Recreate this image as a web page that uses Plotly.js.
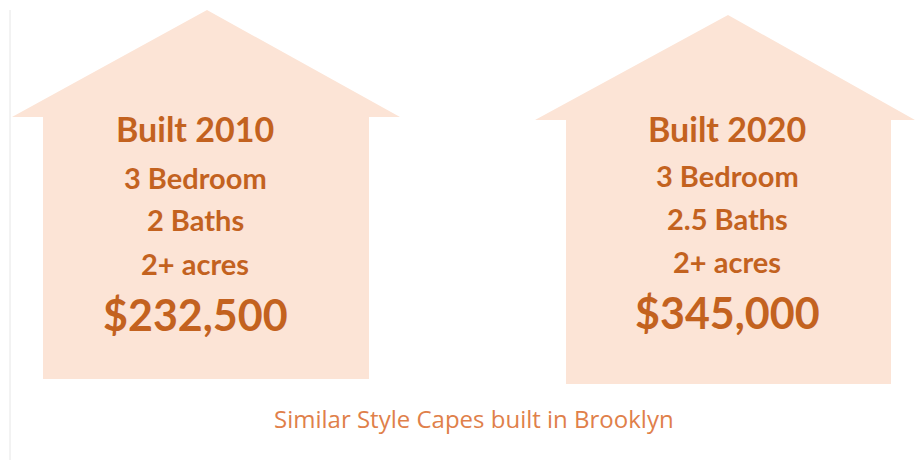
<!DOCTYPE html>
<html>
<head>
<meta charset="utf-8">
<script src="https://cdn.plot.ly/plotly-3.0.1.min.js"></script>
<style>html,body{margin:0;padding:0;background:#fff;}#chart{width:915px;height:460px;}</style>
</head>
<body>
<div id="chart"></div>
<script>
// ---- data ----
const builtYears = [2010, 2020];
const bedrooms = [3, 3];
const baths = [2, 2.5];
const acres = ["2+", "2+"];
const prices = [232500, 345000];
const caption = "Similar Style Capes built in Brooklyn";

// ---- house geometry (layout only) ----
const houses = [
  {peakX: 207, peakY: 10, eaveL: 12, eaveR: 400, eaveY: 117, bodyL: 43, bodyR: 369, bottom: 379, textX: 195},
  {peakX: 728, peakY: 15, eaveL: 535, eaveR: 915, eaveY: 120, bodyL: 566, bodyR: 891, bottom: 384, textX: 727}
];
const lineY = [[128, 177, 219, 263, 314], [128, 175, 218, 261, 312]];

const fill = '#FCE4D6';
const textColor = '#C3621F';
const font = 'Lato, "Open Sans", sans-serif';

const traces = houses.map(h => ({
  type: 'scatter', mode: 'lines', fill: 'toself', fillcolor: fill,
  line: {width: 0, color: fill}, hoverinfo: 'skip', showlegend: false,
  x: [h.bodyL, h.bodyL, h.eaveL, h.peakX, h.eaveR, h.bodyR, h.bodyR, h.bodyL],
  y: [h.bottom, h.eaveY, h.eaveY, h.peakY, h.eaveY, h.eaveY, h.bottom, h.bottom]
}));

const fmtPrice = v => '$' + v.toLocaleString('en-US');
const annotations = [];
houses.forEach((h, i) => {
  const lines = [
    {t: 'Built ' + builtYears[i], s: 34},
    {t: bedrooms[i] + ' Bedroom', s: 29},
    {t: baths[i] + ' Baths', s: 29},
    {t: acres[i] + ' acres', s: 29},
    {t: fmtPrice(prices[i]), s: 43}
  ];
  lines.forEach((l, k) => annotations.push({
    x: h.textX, y: lineY[i][k], xref: 'x', yref: 'y', text: l.t, showarrow: false,
    xanchor: 'center', yanchor: 'middle',
    font: {family: font, size: l.s, color: textColor, weight: 700}
  }));
});
annotations.push({
  x: 474, y: 418, xref: 'x', yref: 'y', text: caption, showarrow: false,
  xanchor: 'center', yanchor: 'middle',
  font: {family: '"Open Sans", Lato, sans-serif', size: 24, color: '#E0804A'}
});

const layout = {
  width: 915, height: 460,
  margin: {l: 0, r: 0, t: 0, b: 0},
  paper_bgcolor: '#ffffff', plot_bgcolor: '#ffffff',
  xaxis: {range: [0, 915], visible: false, fixedrange: true},
  yaxis: {range: [460, 0], visible: false, fixedrange: true},
  showlegend: false,
  annotations: annotations,
  shapes: [{type: 'line', xref: 'x', yref: 'y', x0: 10, x1: 10, y0: 10, y1: 460,
            line: {color: '#E6E6E6', width: 1}}]
};

Plotly.newPlot('chart', traces, layout, {staticPlot: true, displayModeBar: false});
</script>
</body>
</html>
